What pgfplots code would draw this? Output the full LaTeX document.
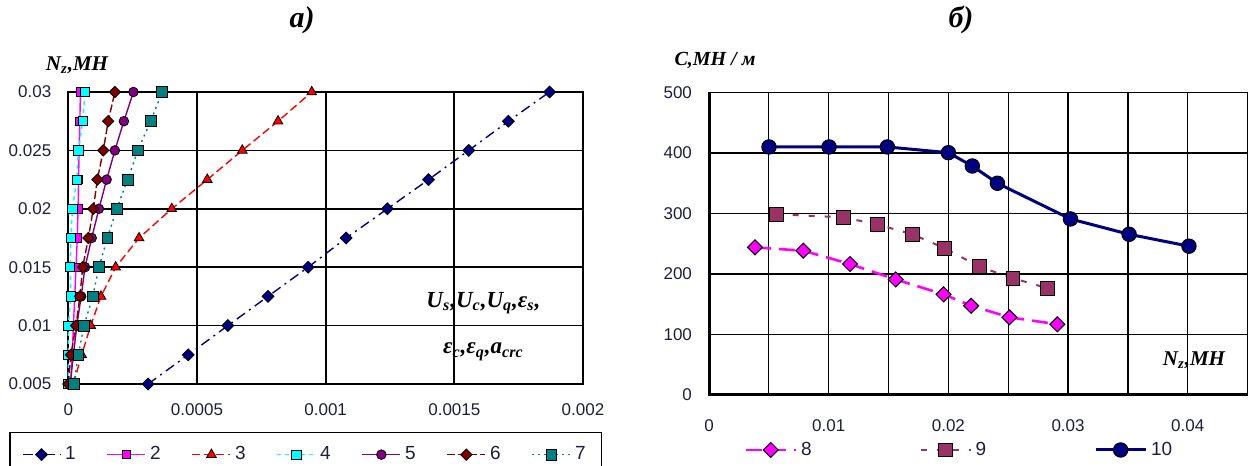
\documentclass[border=0pt]{standalone}
\usepackage{fontspec}
\setmainfont{Liberation Sans}
\newfontfamily\tnr{Liberation Serif}
\usepackage{pgfplots}
\pgfplotsset{compat=1.18}
\definecolor{c1}{RGB}{0,0,128}
\definecolor{c2}{RGB}{255,0,255}
\definecolor{c3}{RGB}{255,0,0}
\definecolor{c4}{RGB}{0,255,255}
\definecolor{c5}{RGB}{128,0,128}
\definecolor{c6}{RGB}{128,0,0}
\definecolor{c7}{RGB}{0,128,128}
\definecolor{c9}{RGB}{153,51,102}
\definecolor{tickc}{RGB}{30,30,60}
\begin{document}
\begin{tikzpicture}
% ---------------- left chart ----------------
\begin{axis}[
  at={(34.15pt,41pt)}, anchor=south west, scale only axis,
  width=257.35pt, height=146pt,
  xmin=0, xmax=0.002, ymin=0.005, ymax=0.03,
  xtick={0,0.0005,0.001,0.0015,0.002},
  xticklabels={0,0.0005,0.001,0.0015,0.002},
  ytick={0.005,0.01,0.015,0.02,0.025,0.03},
  yticklabels={0.005,0.01,0.015,0.02,0.025,0.03},
  scaled ticks=false,
  xmajorgrids, ymajorgrids,
  grid style={black,line width=0.85pt},
  axis line style={line width=0.9pt},
  major tick length=0pt,
  /pgf/number format/assume math mode=true,
  tick label style={font=\fontsize{8.5}{10}\selectfont, text=tickc},
  xticklabel style={yshift=-6.5pt},
  yticklabel style={xshift=-5pt},
  clip=false,
  legend columns=7,
  legend image code/.code={\draw[mark repeat=2,mark phase=2,#1] plot coordinates {(0pt,0pt) (9.5pt,0pt) (19pt,0pt)};},
  legend style={at={(axis description cs:-0.1152,-0.1634)}, anchor=north west,
    draw=black, line width=0.8pt, inner xsep=6pt, inner ysep=5pt,
    font=\fontsize{9.5}{11}\selectfont, text=tickc,
    /tikz/every even column/.append style={column sep=13.5pt}},
]
\addplot[c1, line width=0.7pt, dash pattern=on 5pt off 2.5pt on 1pt off 2.5pt,
  mark=square*, mark size=2.1pt, mark options={solid, rotate=45, fill=c1, draw=black, line width=0.4pt}]
  coordinates {(0.00031,0.005) (0.000466,0.0075) (0.00062,0.01) (0.000776,0.0125) (0.000932,0.015) (0.00108,0.0175) (0.00124,0.02) (0.0014,0.0225) (0.001556,0.025) (0.00171,0.0275) (0.00187,0.03)};
\addlegendentry{1}
\addplot[c2, line width=0.7pt,
  mark=square*, mark size=2.1pt, mark options={solid, fill=c2, draw=black, line width=0.4pt}]
  coordinates {(0.00001,0.005) (0.000015,0.0075) (0.00002,0.01) (0.000025,0.0125) (0.00003,0.015) (0.000035,0.0175) (0.000038,0.02) (0.00004,0.0225) (0.000042,0.025) (0.000045,0.0275) (0.000047,0.03)};
\addlegendentry{2}
\addplot[c3, line width=0.7pt, dash pattern=on 4pt off 2pt,
  mark=triangle*, mark size=2.8pt, mark options={solid, fill=c3, draw=black, line width=0.4pt}]
  coordinates {(0.00002,0.005) (0.000052,0.0075) (0.000087,0.01) (0.000127,0.0125) (0.000184,0.015) (0.000275,0.0175) (0.000402,0.02) (0.00054,0.0225) (0.000676,0.025) (0.000815,0.0275) (0.000946,0.03)};
\addlegendentry{3}
\addplot[c4, line width=0.7pt, dash pattern=on 2pt off 2pt,
  mark=square*, mark size=2.3pt, mark options={solid, fill=c4, draw=black, line width=0.4pt}]
  coordinates {(0,0.005) (0,0.0075) (0,0.01) (0.00001,0.0125) (0.000007,0.015) (0.00001,0.0175) (0.000016,0.02) (0.000033,0.0225) (0.000039,0.025) (0.000056,0.0275) (0.000065,0.03)};
\addlegendentry{4}
\addplot[c5, line width=0.7pt,
  mark=*, mark size=2.4pt, mark options={solid, fill=c5, draw=black, line width=0.4pt}]
  coordinates {(0.000007,0.005) (0.00002,0.0075) (0.000033,0.01) (0.00005,0.0125) (0.000065,0.015) (0.000091,0.0175) (0.000119,0.02) (0.000149,0.0225) (0.000181,0.025) (0.000216,0.0275) (0.000253,0.03)};
\addlegendentry{5}
\addplot[c6, line width=0.7pt, dash pattern=on 4pt off 1.5pt,
  mark=square*, mark size=2pt, mark options={solid, rotate=45, fill=c6, draw=black, line width=0.4pt}]
  coordinates {(0,0.005) (0.00001,0.0075) (0.00003,0.01) (0.000045,0.0125) (0.000056,0.015) (0.000078,0.0175) (0.000097,0.02) (0.000113,0.0225) (0.000136,0.025) (0.000155,0.0275) (0.000181,0.03)};
\addlegendentry{6}
\addplot[c7, line width=0.7pt, dash pattern=on 1pt off 2pt,
  mark=square*, mark size=2.7pt, mark options={solid, fill=c7, draw=black, line width=0.4pt}]
  coordinates {(0.000022,0.005) (0.000039,0.0075) (0.000061,0.01) (0.000095,0.0125) (0.000119,0.015) (0.000152,0.0175) (0.000188,0.02) (0.000231,0.0225) (0.00027,0.025) (0.00032,0.0275) (0.000365,0.03)};
\addlegendentry{7}
\end{axis}
% ---------------- right chart ----------------
\begin{axis}[
  at={(354.5pt,35.5pt)}, anchor=south west, scale only axis,
  width=269.3pt, height=151.25pt,
  xmin=0, xmax=0.045, ymin=0, ymax=500,
  xtick={0,0.01,0.02,0.03,0.04},
  xticklabels={0,0.01,0.02,0.03,0.04},
  minor xtick={0.005,0.015,0.025,0.035},
  ytick={0,100,200,300,400,500},
  scaled ticks=false,
  xmajorgrids, ymajorgrids, xminorgrids,
  grid style={black,line width=0.65pt},
  minor grid style={black,line width=0.65pt},
  axis line style={line width=0.65pt},
  major tick length=0pt, minor tick length=0pt,
  /pgf/number format/assume math mode=true,
  tick label style={font=\fontsize{8.5}{10}\selectfont, text=tickc},
  xticklabel style={yshift=-9pt},
  yticklabel style={xshift=-5pt},
  clip=false,
  legend columns=3,
  legend image code/.code={\draw[mark repeat=2,mark phase=2,#1] plot coordinates {(0pt,0pt) (12.5pt,0pt) (25pt,0pt)};},
  legend style={at={(axis description cs:0.065,-0.1818)}, anchor=west,
    draw=none, fill=none, inner sep=0pt,
    font=\fontsize{9.5}{11}\selectfont, text=tickc,
    /tikz/every even column/.append style={column sep=52pt}},
]
\draw[line width=1.5pt] (rel axis cs:0,1) -- (rel axis cs:0,0) -- (rel axis cs:1,0);
\addplot[c2, line width=1.3pt, dash pattern=on 8pt off 4pt,
  mark=square*, mark size=2.65pt, mark options={solid, rotate=45, fill=c2, draw=black, line width=0.5pt}]
  coordinates {(0.00384,244) (0.00788,238.5) (0.01178,216.5) (0.0156,191) (0.0196,166.4) (0.0219,147.6) (0.0251,128.4) (0.0291,116.9)};
\addlegendentry{8}
\addplot[c9, line width=1pt, dash pattern=on 3pt off 5pt,
  mark=square*, mark size=3.4pt, mark options={solid, fill=c9, draw=black, line width=0.5pt}]
  coordinates {(0.00566,298.7) (0.01122,293.7) (0.01406,282) (0.0170,265.6) (0.0197,242.5) (0.0226,212) (0.0254,193) (0.0283,176.4)};
\addlegendentry{9}
\addplot[c1, line width=1.5pt,
  mark=*, mark size=3.6pt, mark options={solid, fill=c1, draw=black, line width=0.5pt}]
  coordinates {(0.00501,410) (0.01003,410) (0.0149,410) (0.02,400.5) (0.022,378.5) (0.0241,350) (0.0302,291) (0.0351,265.6) (0.0401,246)};
\addlegendentry{10}
\end{axis}
% ---------------- titles and labels ----------------
\node[font=\tnr\bfseries\itshape\fontsize{15}{17}\selectfont] at (151pt,223pt) {а)};
\node[font=\tnr\bfseries\itshape\fontsize{15}{17}\selectfont] at (480.5pt,223pt) {б)};
\node[font=\tnr\bfseries\itshape\fontsize{10.5}{12}\selectfont] at (38.5pt,200.5pt) {N\textsubscript{z},МН};
\node[font=\tnr\bfseries\itshape\fontsize{10}{12}\selectfont] at (357.5pt,203pt) {C,МН / м};
\node[font=\tnr\bfseries\itshape\fontsize{10.5}{12}\selectfont] at (597pt,53pt) {N\textsubscript{z},МН};
\node[font=\tnr\bfseries\itshape\fontsize{11.5}{13}\selectfont] at (241.7pt,81.5pt) {U\textsubscript{s},U\textsubscript{c},U\textsubscript{q},ε\textsubscript{s},};
\node[font=\tnr\bfseries\itshape\fontsize{11.5}{13}\selectfont] at (241.7pt,57pt) {ε\textsubscript{c},ε\textsubscript{q},a\textsubscript{crc}};
\pgfresetboundingbox
\useasboundingbox (0,0) rectangle (624.5pt,233pt);
\end{tikzpicture}
\end{document}
